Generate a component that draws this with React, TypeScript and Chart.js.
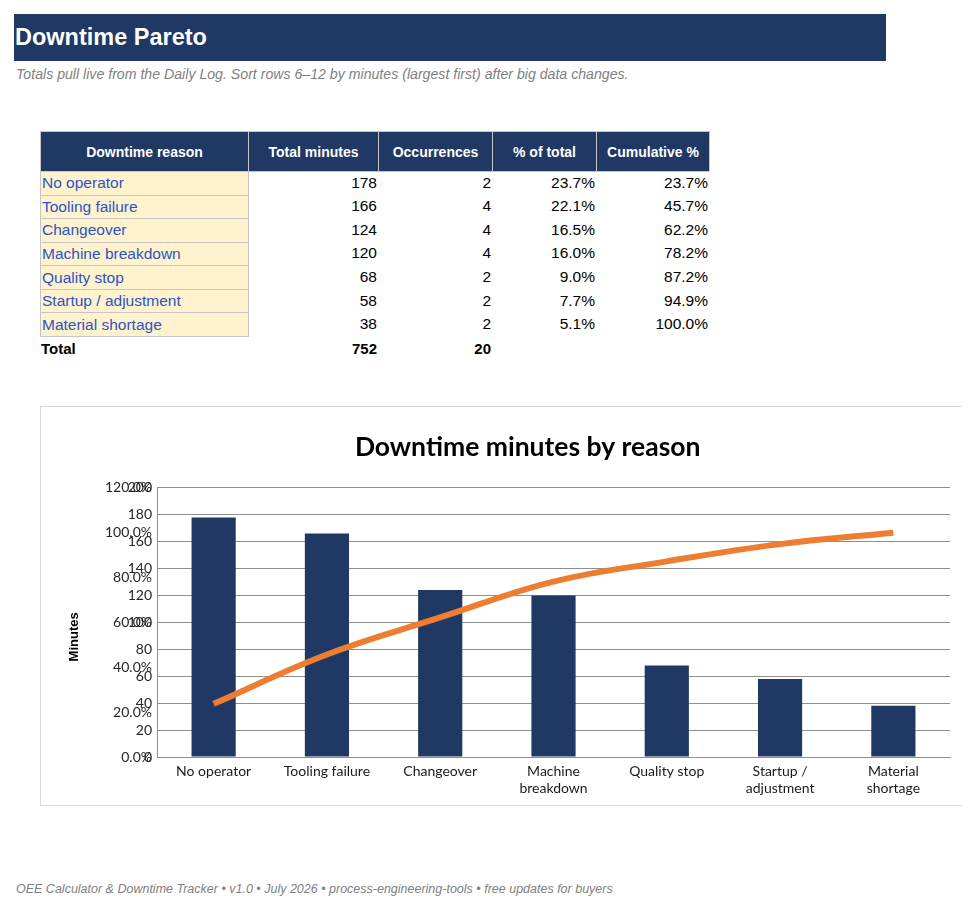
import React, { useEffect, useRef } from "react";
import { Chart, registerables } from "chart.js";

Chart.register(...registerables);

// ---------- data ----------
const reasons = [
  "No operator",
  "Tooling failure",
  "Changeover",
  "Machine breakdown",
  "Quality stop",
  "Startup / adjustment",
  "Material shortage",
];
const axisLabels = [
  ["No operator"],
  ["Tooling failure"],
  ["Changeover"],
  ["Machine", "breakdown"],
  ["Quality stop"],
  ["Startup /", "adjustment"],
  ["Material", "shortage"],
];
const minutes = [178, 166, 124, 120, 68, 58, 38];
const occurrences = [2, 4, 4, 4, 2, 2, 2];
const pctOfTotal = [23.7, 22.1, 16.5, 16.0, 9.0, 7.7, 5.1];
const cumulativePct = [23.7, 45.7, 62.2, 78.2, 87.2, 94.9, 100.0];
const totalMinutes = 752;
const totalOccurrences = 20;
const tableHeaders = ["Downtime reason", "Total minutes", "Occurrences", "% of total", "Cumulative %"];

const NAVY = "#1F3864";
const BAR = "#203864";
const ORANGE = "#ED7D31";
const SANS = "'Liberation Sans', Arial, sans-serif";
const CHART_FONT = "Lato";

const colLeft = [40, 248, 378, 492, 596];
const colRight = [248, 378, 492, 596, 709];
const ROW_TOP = 171;
const ROW_H = 23.57;

const pctTicksPlugin = {
  id: "pctTicks",
  afterDraw(chart: any) {
    const s = chart.scales.y2;
    const y = chart.scales.y;
    if (!s || !y) return;
    const ctx = chart.ctx;
    ctx.save();
    ctx.font = `14px ${CHART_FONT}`;
    ctx.fillStyle = "#262626";
    ctx.textAlign = "right";
    ctx.textBaseline = "middle";
    s.ticks.forEach((t: any) => {
      ctx.fillText(Number(t.value).toFixed(1) + "%", y.right - 5, s.getPixelForValue(t.value));
    });
    ctx.restore();
  },
};

function ParetoChart() {
  const ref = useRef<HTMLCanvasElement | null>(null);
  useEffect(() => {
    if (!ref.current) return;
    const chart = new Chart(ref.current, {
      type: "bar",
      data: {
        labels: axisLabels as any,
        datasets: [
          {
            type: "line",
            label: "Cumulative %",
            data: cumulativePct,
            yAxisID: "y2",
            borderColor: ORANGE,
            backgroundColor: ORANGE,
            borderWidth: 6,
            tension: 0.4,
            pointRadius: 0,
            fill: false,
            order: 0,
          } as any,
          {
            type: "bar",
            label: "Minutes",
            data: minutes,
            yAxisID: "y",
            backgroundColor: BAR,
            borderWidth: 0,
            barPercentage: 0.39,
            categoryPercentage: 1,
            order: 1,
          },
        ],
      },
      options: {
        responsive: false,
        animation: false,
        devicePixelRatio: 1,
        layout: { padding: { left: 0, right: 65, top: 0, bottom: 0 } },
        plugins: {
          legend: { display: false },
          tooltip: { enabled: false },
          title: {
            display: true,
            text: "          Downtime minutes by reason",
            color: "#000",
            font: { family: CHART_FONT, size: 26.5, weight: "bold" },
            padding: { top: 25, bottom: 24 },
          },
        },
        scales: {
          x: {
            grid: { display: false, drawTicks: false },
            border: { display: true, color: "#8f8f8f" },
            ticks: {
              color: "#1a1a1a",
              font: { family: CHART_FONT, size: 14 },
              padding: 6,
              maxRotation: 0,
              autoSkip: false,
            },
            afterFit(scale: any) {
              scale.height = 48;
            },
          },
          y: {
            position: "left",
            min: 0,
            max: 200,
            ticks: {
              stepSize: 20,
              color: "#262626",
              font: { family: CHART_FONT, size: 14 },
              padding: 5,
            },
            grid: { color: "#8f8f8f", lineWidth: 1, drawTicks: false },
            border: { display: true, color: "#8f8f8f" },
            title: {
              display: true,
              text: "Minutes        ",
              color: "#000",
              font: { family: SANS, size: 13, weight: "bold" },
              padding: { top: 26, bottom: 0 },
            },
            afterFit(scale: any) {
              scale.width = 116;
            },
          },
          y2: {
            display: false,
            position: "right",
            min: 0,
            max: 120,
            ticks: { stepSize: 20 },
            grid: { display: false },
          },
        },
      },
      plugins: [pctTicksPlugin],
    } as any);
    return () => chart.destroy();
  }, []);
  return <canvas ref={ref} width={974} height={398} style={{ display: "block" }} />;
}

const cellText: React.CSSProperties = {
  position: "absolute",
  fontFamily: SANS,
  fontSize: 15.5,
  color: "#000",
  whiteSpace: "nowrap",
  display: "flex",
  alignItems: "center",
  boxSizing: "border-box",
};

export default function App() {
  const rows = reasons.map((r, i) => {
    const top = ROW_TOP + i * ROW_H;
    const vals = [
      String(minutes[i]),
      String(occurrences[i]),
      pctOfTotal[i].toFixed(1) + "%",
      cumulativePct[i].toFixed(1) + "%",
    ];
    return (
      <React.Fragment key={r}>
        <div
          style={{
            ...cellText,
            left: colLeft[0],
            top,
            width: colRight[0] - colLeft[0] + 1,
            height: ROW_H + 1,
            background: "#FFF2CC",
            border: "1px solid #c6c6c6",
            color: "#2B54C9",
            paddingLeft: 1,
          }}
        >
          {r}
        </div>
        {vals.map((v, j) => (
          <div
            key={j}
            style={{
              ...cellText,
              left: colLeft[j + 1],
              top,
              width: colRight[j + 1] - colLeft[j + 1],
              height: ROW_H,
              justifyContent: "flex-end",
              paddingRight: 1,
            }}
          >
            {v}
          </div>
        ))}
      </React.Fragment>
    );
  });

  const totalTop = ROW_TOP + reasons.length * ROW_H;

  return (
    <div
      style={{
        position: "absolute",
        left: 0,
        top: 0,
        width: 976,
        height: 912,
        overflow: "hidden",
        background: "#fff",
      }}
    >
      {/* header bar */}
      <div
        style={{
          position: "absolute",
          left: 14,
          top: 14,
          width: 872,
          height: 47,
          background: NAVY,
          color: "#fff",
          fontFamily: SANS,
          fontWeight: "bold",
          fontSize: 23.5,
          display: "flex",
          alignItems: "center",
          paddingLeft: 1,
          boxSizing: "border-box",
        }}
      >
        Downtime Pareto
      </div>
      <div
        style={{
          position: "absolute",
          left: 16,
          top: 66,
          fontFamily: SANS,
          fontStyle: "italic",
          fontSize: 14.15,
          color: "#808080",
          whiteSpace: "nowrap",
        }}
      >
        Totals pull live from the Daily Log. Sort rows 6–12 by minutes (largest first) after big data changes.
      </div>

      {/* table header */}
      {tableHeaders.map((h, j) => (
        <div
          key={h}
          style={{
            ...cellText,
            left: colLeft[j],
            top: 131,
            width: colRight[j] - colLeft[j] + 1,
            height: 41,
            background: NAVY,
            color: "#fff",
            fontWeight: "bold",
            fontSize: 14,
            justifyContent: "center",
            border: "1px solid #c6c6c6",
          }}
        >
          {h}
        </div>
      ))}

      {rows}

      {/* total row */}
      <div style={{ ...cellText, left: 41, top: totalTop + 1, height: ROW_H, fontWeight: "bold", fontSize: 15 }}>Total</div>
      <div
        style={{
          ...cellText,
          left: colLeft[1],
          top: totalTop + 1,
          width: colRight[1] - colLeft[1],
          height: ROW_H,
          justifyContent: "flex-end",
          paddingRight: 1,
          fontWeight: "bold",
          fontSize: 15,
        }}
      >
        {totalMinutes}
      </div>
      <div
        style={{
          ...cellText,
          left: colLeft[2],
          top: totalTop + 1,
          width: colRight[2] - colLeft[2],
          height: ROW_H,
          justifyContent: "flex-end",
          paddingRight: 1,
          fontWeight: "bold",
          fontSize: 15,
        }}
      >
        {totalOccurrences}
      </div>

      {/* chart box */}
      <div
        style={{
          position: "absolute",
          left: 40,
          top: 406,
          width: 940,
          height: 400,
          borderTop: "1px solid #d9d9d9",
          borderLeft: "1px solid #d9d9d9",
          borderBottom: "1px solid #d9d9d9",
          boxSizing: "border-box",
          clipPath: "inset(0 18px 0 0)",
        }}
      />
      <div style={{ position: "absolute", left: 41, top: 407, width: 974, height: 398 }}>
        <ParetoChart />
      </div>

      {/* footer */}
      <div
        style={{
          position: "absolute",
          left: 16,
          top: 882,
          fontFamily: SANS,
          fontStyle: "italic",
          fontSize: 12.5,
          color: "#808080",
          whiteSpace: "nowrap",
        }}
      >
        OEE Calculator &amp; Downtime Tracker • v1.0 • July 2026 • process-engineering-tools • free updates for buyers
      </div>
    </div>
  );
}
